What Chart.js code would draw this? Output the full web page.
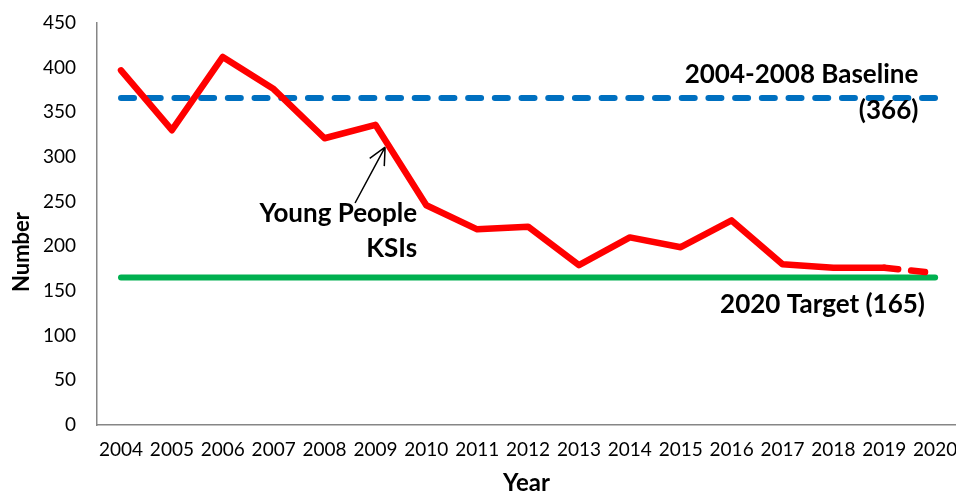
<!DOCTYPE html>
<html>
<head>
<meta charset="utf-8">
<script src="https://cdn.jsdelivr.net/npm/chart.js@4.4.1/dist/chart.umd.min.js"></script>
<style>
  html, body { margin: 0; padding: 0; background: #fff; }
  #wrap { width: 956px; height: 492px; }
</style>
</head>
<body>
<div id="wrap"><canvas id="ksiChart" width="956" height="492"></canvas></div>
<script>
// Young people KSIs per year
const years = [2004, 2005, 2006, 2007, 2008, 2009, 2010, 2011, 2012, 2013, 2014, 2015, 2016, 2017, 2018, 2019, 2020];
const ksis = [397, 330, 412, 376, 321, 336, 246, 219, 222, 179, 210, 199, 229, 180, 176, 176, 170];
const baseline = 366;   // 2004-2008 average
const target = 165;     // 2020 target
const yTicks = [0, 50, 100, 150, 200, 250, 300, 350, 400, 450];

const FONT = "Lato, 'Open Sans', sans-serif";

// text labels and the arrow, placed in data units
const labelsPlugin = {
    id: "labels",
    afterDatasetsDraw(chart) {
        const ctx = chart.ctx;
        const x = chart.scales.x, y = chart.scales.y;
        ctx.save();
        ctx.fillStyle = "#000";
        ctx.textBaseline = "middle";
        ctx.font = "bold 26px " + FONT;

        ctx.textAlign = "right";
        ctx.fillText("2004-2008 Baseline", x.getPixelForValue(2019.67), y.getPixelForValue(392));
        ctx.fillText("(" + baseline + ")", x.getPixelForValue(2019.67), y.getPixelForValue(352));
        ctx.fillText("2020 Target (" + target + ")", x.getPixelForValue(2019.8), y.getPixelForValue(135));

        ctx.fillText("Young People", x.getPixelForValue(2009.82), y.getPixelForValue(237));
        ctx.fillText("KSIs", x.getPixelForValue(2009.82), y.getPixelForValue(198));

        // arrow pointing at the line
        const tx = x.getPixelForValue(2009.19), ty = y.getPixelForValue(311);
        const sx = x.getPixelForValue(2008.6), sy = y.getPixelForValue(248.5);
        ctx.strokeStyle = "#000";
        ctx.lineWidth = 1.5;
        ctx.beginPath();
        ctx.moveTo(sx, sy);
        ctx.lineTo(tx, ty);
        const ang = Math.atan2(ty - sy, tx - sx);
        const len = 19;
        ctx.moveTo(tx, ty);
        ctx.lineTo(tx - len * Math.cos(ang - 0.45), ty - len * Math.sin(ang - 0.45));
        ctx.moveTo(tx, ty);
        ctx.lineTo(tx - len * Math.cos(ang + 0.45), ty - len * Math.sin(ang + 0.45));
        ctx.stroke();

        // y axis title (sits a bit below the axis middle in the original)
        ctx.translate(22, 252);
        ctx.rotate(-Math.PI / 2);
        ctx.textAlign = "center";
        ctx.font = "bold 22px " + FONT;
        ctx.fillText("Number", 0, 0);
        ctx.restore();
    }
};

new Chart(document.getElementById("ksiChart"), {
    type: "line",
    data: {
        datasets: [
            {
                label: "Young People KSIs",
                data: years.map((yr, i) => ({ x: yr, y: ksis[i] })),
                borderColor: "#FF0000",
                borderWidth: 6.5,
                borderCapStyle: "round",
                borderJoinStyle: "round",
                pointRadius: 0,
                tension: 0,
                segment: {
                    // last year is a projection, drawn dashed
                    borderDash: (c) => (c.p0DataIndex === years.length - 2 ? [14, 13] : undefined),
                },
            },
            {
                label: "2004-2008 Baseline",
                data: [years[0], years[years.length - 1]].map((yr) => ({ x: yr, y: baseline })),
                borderColor: "#0070C0",
                borderWidth: 6,
                borderDash: [13, 13.7],
                borderCapStyle: "round",
                pointRadius: 0,
            },
            {
                label: "2020 Target",
                data: [years[0], years[years.length - 1]].map((yr) => ({ x: yr, y: target })),
                borderColor: "#00B050",
                borderWidth: 6,
                borderCapStyle: "round",
                pointRadius: 0,
            },
        ],
    },
    options: {
        responsive: false,
        animation: false,
        events: [],
        layout: { padding: { top: 23, right: 0, bottom: 0, left: 0 } },
        plugins: { legend: { display: false }, tooltip: { enabled: false } },
        scales: {
            x: {
                type: "linear",
                min: 2003.528,
                max: 2020.41,
                afterBuildTicks: (s) => { s.ticks = years.map((v) => ({ value: v })); },
                afterFit: (s) => {
                    s.height = 67;
                    s.paddingLeft = 0;
                    s.paddingRight = 0;
                },
                grid: { display: false, drawTicks: false },
                border: { display: true, color: "#868686", width: 1.5 },
                ticks: {
                    color: "#000",
                    font: { family: FONT, size: 19 },
                    padding: 13,
                    maxRotation: 0,
                    autoSkip: false,
                    callback: (v) => String(v),
                },
                title: {
                    display: true,
                    text: "Year",
                    color: "#000",
                    font: { family: FONT, size: 24, weight: "bold" },
                    padding: { top: 0, bottom: -6 },
                },
            },
            y: {
                min: 0,
                max: 450,
                afterBuildTicks: (s) => { s.ticks = yTicks.map((v) => ({ value: v })); },
                afterFit: (s) => {
                    s.width = 97;
                    s.paddingTop = 10;
                    s.paddingBottom = 10;
                },
                grid: { display: false, drawTicks: false },
                border: { display: true, color: "#868686", width: 1.5 },
                ticks: {
                    color: "#000",
                    font: { family: FONT, size: 19 },
                    padding: 21,
                },
            },
        },
    },
    plugins: [labelsPlugin],
});
</script>
</body>
</html>
